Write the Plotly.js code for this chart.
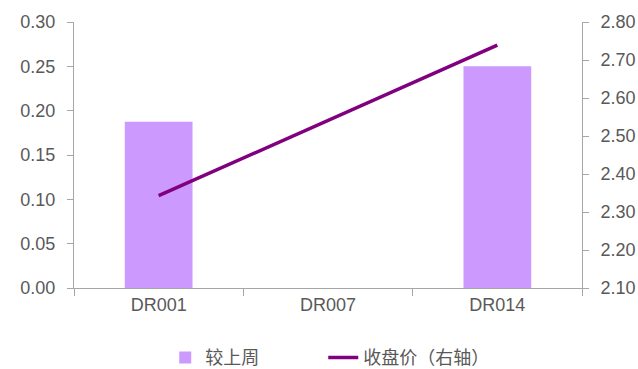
<!DOCTYPE html>
<html><head><meta charset="utf-8">
<script src="https://cdn.plot.ly/plotly-3.0.1.min.js"></script>
<style>html,body{margin:0;padding:0;background:#fff}#c{width:638px;height:369px}</style>
</head><body><div id="c"></div>
<script>
const categories = ['DR001', 'DR007', 'DR014'];
const weeklyChange = [0.1875, 0, 0.25];
const closePrice = [2.343, 2.541, 2.739];
const leftTicks = [0, 0.05, 0.10, 0.15, 0.20, 0.25, 0.30];
const rightTicks = [2.10, 2.20, 2.30, 2.40, 2.50, 2.60, 2.70, 2.80];

const font = {family: 'Liberation Sans, Arial, sans-serif', size: 18, color: '#595959'};
const axisColor = '#A6A6A6';

const traces = [
  {type: 'bar', x: categories, y: weeklyChange, name: '较上周',
   marker: {color: '#CC99FF'}, width: 0.4, yaxis: 'y'},
  {type: 'scatter', mode: 'lines', x: categories, y: closePrice, name: '收盘价（右轴）',
   line: {color: '#800080', width: 3.5}, yaxis: 'y2'}
];

const layout = {
  width: 638, height: 369,
  margin: {l: 74, r: 56, t: 22, b: 81, autoexpand: false},
  paper_bgcolor: '#fff', plot_bgcolor: '#fff',
  font: font,
  showlegend: true,
  legend: {orientation: 'h', x: 0.259, xanchor: 'left', xref: 'container',
           y: -0.262, yanchor: 'middle', yref: 'paper', entrywidth: 113,
           font: {family: 'Noto Sans CJK SC, sans-serif', size: 18, color: '#595959'}},
  xaxis: {type: 'category', showline: true, linecolor: axisColor, linewidth: 1,
          ticks: 'outside', tickson: 'boundaries', ticklen: 7, tickcolor: axisColor,
          showgrid: false, zeroline: false, fixedrange: true, automargin: false},
  yaxis: {range: [0, 0.30], tickvals: leftTicks, tickformat: '.2f', showline: true,
          linecolor: axisColor, ticks: 'outside', ticklen: 6, tickcolor: axisColor,
          showgrid: false, zeroline: false, ticklabelstandoff: 8, automargin: false},
  yaxis2: {range: [2.10, 2.80], tickvals: rightTicks, tickformat: '.2f', overlaying: 'y',
           side: 'right', showline: true, linecolor: axisColor, ticks: 'outside', ticklen: 6,
           tickcolor: axisColor, showgrid: false, zeroline: false, ticklabelstandoff: 8,
           automargin: false}
};

Plotly.newPlot('c', traces, layout, {staticPlot: true});
</script></body></html>
